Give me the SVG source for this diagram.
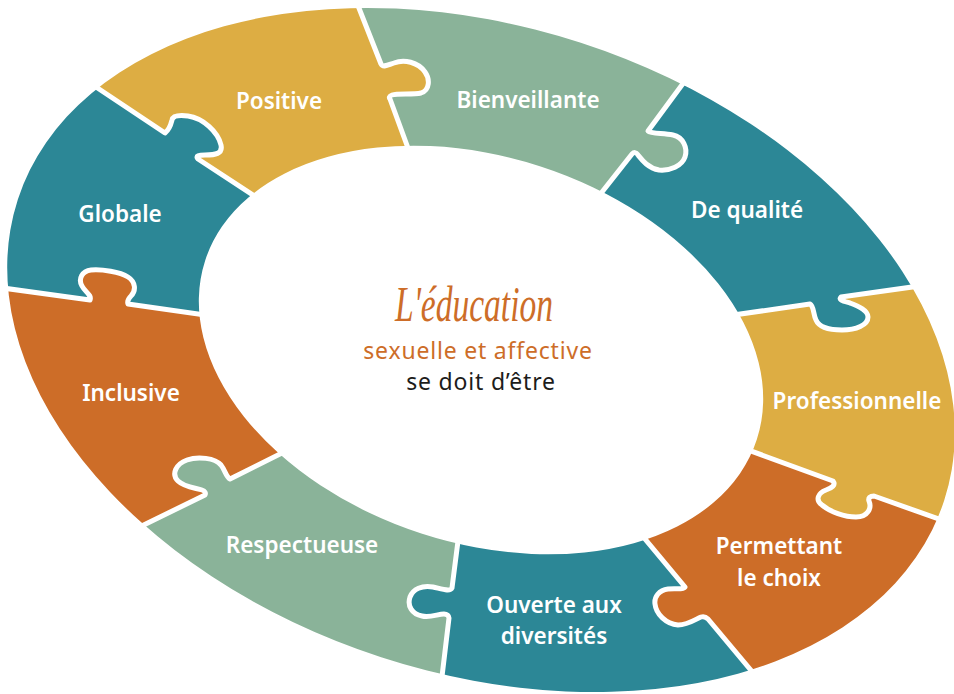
<svg xmlns="http://www.w3.org/2000/svg" width="954" height="694" viewBox="0 0 954 694">
<style>
.teal{fill:#2C8796}.yel{fill:#DDAD43}.grn{fill:#8AB399}.org{fill:#CD6D28}
.lbl{fill:#fff;font-family:"Noto Sans","Open Sans",sans-serif;font-weight:600;font-size:22.5px;text-anchor:middle}
.seam{fill:none;stroke:#fff;stroke-width:5;stroke-linejoin:round;stroke-linecap:round}
.sub{font-family:"Noto Sans","Open Sans",sans-serif;font-size:23px;text-anchor:middle;letter-spacing:0.8px}
</style>
<defs>
<clipPath id="ring">
<path clip-rule="evenodd" transform="translate(481,350) rotate(18)" d="M-487,0 A487,323 0 1,0 487,0 A487,323 0 1,0 -487,0 Z M-290,0 A290,193 0 1,0 290,0 A290,193 0 1,0 -290,0 Z"/>
</clipPath>
</defs>
<rect width="954" height="694" fill="#fff"/>

<g id="positive">
<path class="yel" clip-path="url(#ring)" d="M481,350 L299,225 L198,159 C195,156 199,155 205,155 C215,155 223,154 221,145 C218,132 203,118 188,116 C180,115 173,115 172,120 C171,124 170,129 165,133 L48,55 L-385,-240 L203,-420 L342,-35 L381,64 C383,68 388,65 394,63 C404,59 418,62 425,72 C430,79 430,90 421,93 C413,95 398,93 392,95 C389,96 389,98 390,99 L423,189 Z"/>
<text class="lbl" x="279" y="109">Positive</text>
</g>
<g id="bienveillante">
<path class="grn" clip-path="url(#ring)" d="M481,350 L423,189 L390,99 C389,98 389,96 392,95 C398,93 413,95 421,93 C430,90 430,79 425,72 C418,62 404,59 394,63 C388,65 383,68 381,64 L342,-35 L203,-420 L927,-240 L704,55 L648,131 C651,134 662,133 673,135 C683,137 688,148 685,157 C682,166 670,171 659,170 C648,168 642,160 638,155 C636,152 634,152 632,154 L576,225 Z"/>
<text class="lbl" x="528" y="108">Bienveillante</text>
</g>
<g id="de-qualite">
<path class="teal" clip-path="url(#ring)" d="M481,350 L576,225 L632,154 C634,152 636,152 638,155 C642,160 648,168 659,170 C670,171 682,166 685,157 C688,148 683,137 673,135 C662,133 651,134 648,131 L704,55 L927,-240 L1443,210 L962,280 L841,297 C838,300 843,301 850,303 C858,306 868,310 868,317 C868,325 856,330 842,330 C830,330 819,327 816,320 C813,314 814,306 810,304 L685,322 Z"/>
<text class="lbl" x="747" y="218">De qualité</text>
</g>
<g id="professionnelle">
<path class="yel" clip-path="url(#ring)" d="M481,350 L685,322 L810,304 C814,306 813,314 816,320 C819,327 830,330 842,330 C856,330 868,325 868,317 C868,310 858,306 850,303 C843,301 838,300 841,297 L962,280 L1443,210 L1515,730 L998,540 L874,496 C870,496 868,498 869,501 C872,508 868,517 856,517 C845,517 830,512 822,505 C815,500 818,493 826,490 C832,488 836,485 833,481 L699,432 Z"/>
<text class="lbl" x="857" y="409">Professionnelle</text>
</g>
<g id="permettant">
<path class="org" clip-path="url(#ring)" d="M481,350 L699,432 L833,481 C836,485 832,488 826,490 C818,493 815,500 822,505 C830,512 845,517 856,517 C868,517 872,508 869,501 C868,498 870,496 874,496 L998,540 L1515,730 L1089,1072 L785,711 L708,619 C706,617 704,616 701,617 C696,619 688,625 678,625 C666,624 656,614 655,604 C654,597 659,590 668,589 C676,588 683,590 685,587 L615,503 Z"/>
<text class="lbl" x="779" y="554">Permettant</text>
<text class="lbl" x="779" y="586">le choix</text>
</g>
<g id="ouverte">
<path class="teal" clip-path="url(#ring)" d="M481,350 L615,503 L685,587 C683,590 676,588 668,589 C659,590 654,597 655,604 C656,614 666,624 678,625 C688,625 696,619 701,617 C704,616 706,617 708,619 L785,711 L1089,1072 L395,1070 L438,710 L449,618 C449,616 447,614 444,614 C438,614 430,618 422,616 C412,614 407,606 410,597 C413,589 422,585 433,587 C442,589 450,592 452,588 L463,502 Z"/>
<text class="lbl" x="554" y="613">Ouverte aux</text>
<text class="lbl" x="554" y="644">diversités</text>
</g>
<g id="respectueuse">
<path class="grn" clip-path="url(#ring)" d="M481,350 L463,502 L452,588 C450,592 442,589 433,587 C422,585 413,589 410,597 C407,606 412,614 422,616 C430,618 438,614 444,614 C447,614 449,616 449,618 L438,710 L395,1070 L-255,730 L113,540 L205,495 C206,493 205,491 202,490 C196,488 184,487 178,481 C171,474 176,464 187,460 C198,456 215,458 221,465 C225,470 226,477 230,479 L322,433 Z"/>
<text class="lbl" x="302" y="553">Respectueuse</text>
</g>
<g id="inclusive">
<path class="org" clip-path="url(#ring)" d="M481,350 L322,433 L230,479 C226,477 225,470 221,465 C215,458 198,456 187,460 C176,464 171,474 178,481 C184,487 196,488 202,490 C205,491 206,493 205,495 L113,540 L-255,730 L-577,212 L-48,281 L90,300 C92,295 85,292 82,286 C78,279 82,271 91,270 C102,269 120,272 128,277 C136,282 136,291 131,296 C128,299 127,301 128,304 L261,323 Z"/>
<text class="lbl" x="131" y="401">Inclusive</text>
</g>
<g id="globale">
<path class="teal" clip-path="url(#ring)" d="M481,350 L261,323 L128,304 C127,301 128,299 131,296 C136,291 136,282 128,277 C120,272 102,269 91,270 C82,271 78,279 82,286 C85,292 92,295 90,300 L-48,281 L-577,212 L-385,-240 L48,55 L165,133 C170,129 171,124 172,120 C173,115 180,115 188,116 C203,118 218,132 221,145 C223,154 215,155 205,155 C199,155 195,156 198,159 L299,225 Z"/>
<text class="lbl" x="120" y="222">Globale</text>
</g>

<g id="seams" class="seam">
<path d="M299,225 L198,159 C195,156 199,155 205,155 C215,155 223,154 221,145 C218,132 203,118 188,116 C180,115 173,115 172,120 C171,124 170,129 165,133 L48,55"/>
<path d="M423,189 L390,99 C389,98 389,96 392,95 C398,93 413,95 421,93 C430,90 430,79 425,72 C418,62 404,59 394,63 C388,65 383,68 381,64 L342,-35"/>
<path d="M576,225 L632,154 C634,152 636,152 638,155 C642,160 648,168 659,170 C670,171 682,166 685,157 C688,148 683,137 673,135 C662,133 651,134 648,131 L704,55"/>
<path d="M685,322 L810,304 C814,306 813,314 816,320 C819,327 830,330 842,330 C856,330 868,325 868,317 C868,310 858,306 850,303 C843,301 838,300 841,297 L962,280"/>
<path d="M699,432 L833,481 C836,485 832,488 826,490 C818,493 815,500 822,505 C830,512 845,517 856,517 C868,517 872,508 869,501 C868,498 870,496 874,496 L998,540"/>
<path d="M615,503 L685,587 C683,590 676,588 668,589 C659,590 654,597 655,604 C656,614 666,624 678,625 C688,625 696,619 701,617 C704,616 706,617 708,619 L785,711"/>
<path d="M463,502 L452,588 C450,592 442,589 433,587 C422,585 413,589 410,597 C407,606 412,614 422,616 C430,618 438,614 444,614 C447,614 449,616 449,618 L438,710"/>
<path d="M322,433 L230,479 C226,477 225,470 221,465 C215,458 198,456 187,460 C176,464 171,474 178,481 C184,487 196,488 202,490 C205,491 206,493 205,495 L113,540"/>
<path d="M261,323 L128,304 C127,301 128,299 131,296 C136,291 136,282 128,277 C120,272 102,269 91,270 C82,271 78,279 82,286 C85,292 92,295 90,300 L-48,281"/>
</g>

<g id="title">
<text x="474" y="321" fill="#CD6D28" font-family="'Liberation Serif',serif" font-style="italic" font-size="50" text-anchor="middle" textLength="158" lengthAdjust="spacingAndGlyphs">L'éducation</text>
<text class="sub" x="478" y="359" fill="#CD6D28">sexuelle et affective</text>
<text class="sub" x="481" y="390" fill="#1D1D1B">se doit d’être</text>
</g>
</svg>
